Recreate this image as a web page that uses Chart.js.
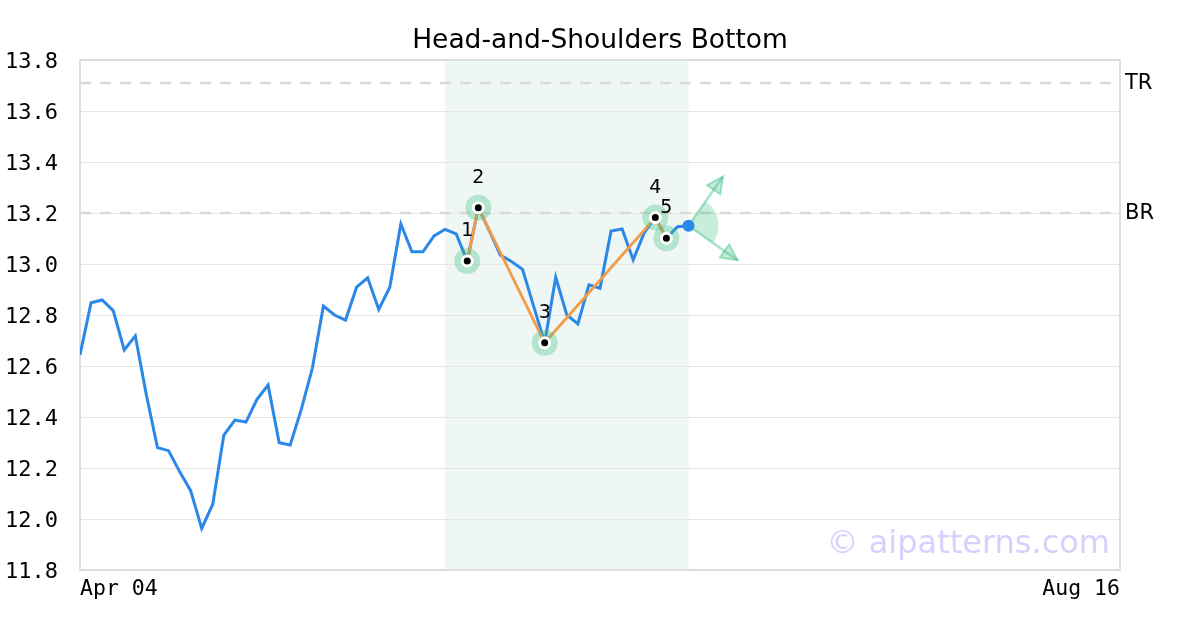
<!DOCTYPE html>
<html>
<head>
<meta charset="utf-8">
<script src="https://cdn.jsdelivr.net/npm/chart.js@4.4.1/dist/chart.umd.min.js"></script>
<style>
  html, body { margin: 0; padding: 0; background: #fff; }
  #wrap { width: 1200px; height: 630px; }
</style>
</head>
<body>
<div id="wrap"><canvas id="chart" width="1200" height="630"></canvas></div>
<script>
// price series (one value per trading day, starting Apr 04)
const closes = [
  12.643, 12.848, 12.859, 12.817, 12.663, 12.718, 12.486, 12.28, 12.268, 12.186,
  12.111, 11.963, 12.058, 12.329, 12.388, 12.380, 12.469, 12.525, 12.299, 12.29,
  12.43, 12.591, 12.835, 12.80, 12.78, 12.909, 12.946, 12.822, 12.909, 13.157,
  13.048, 13.048, 13.11, 13.136, 13.118, 13.012, 13.221, 13.13, 13.035, 13.01,
  12.979, 12.835, 12.691, 12.948, 12.80, 12.765, 12.918, 12.905, 13.129, 13.137,
  13.016, 13.123, 13.182, 13.101, 13.146, 13.15
];
const totalSlots = 95;            // Apr 04 .. Aug 16
const xTickIdx = [0, 94];
const xTickLabels = ['Apr 04', 'Aug 16'];

// pattern pivots
const pivotIdx = [35, 36, 42, 52, 53];
const pivotVals = [13.012, 13.221, 12.691, 13.182, 13.101];
const pivotLabels = ['1', '2', '3', '4', '5'];

// shaded pattern window
const bandFrom = 33;
const bandTo = 55;

// reference lines
const refNames = ['TR', 'BR'];
const refVals = [13.71, 13.2];

const yMin = 11.8, yMax = 13.8, yStep = 0.2;

const closePts = closes.map((v, i) => ({ x: i, y: v }));
const pivotPts = pivotIdx.map((i, k) => ({ x: i, y: pivotVals[k] }));
const lastI = closes.length - 1;

const monoFont = "'DejaVu Sans Mono', monospace";
const sansFont = "'DejaVu Sans', sans-serif";

const decor = {
  id: 'decor',
  beforeDraw(chart) {
    const { ctx, chartArea: a, scales: { x } } = chart;
    ctx.save();
    // pattern window
    const x0 = x.getPixelForValue(bandFrom);
    const x1 = x.getPixelForValue(bandTo);
    ctx.fillStyle = '#eef7f3';
    ctx.fillRect(x0, a.top, x1 - x0, a.bottom - a.top);
    ctx.restore();
  },
  beforeDatasetsDraw(chart) {
    const { ctx, chartArea: a, scales: { x, y } } = chart;
    ctx.save();
    // frame
    ctx.strokeStyle = '#dddddd';
    ctx.lineWidth = 2;
    ctx.strokeRect(a.left, a.top, a.right - a.left, a.bottom - a.top);

    // dashed reference lines + names
    ctx.setLineDash([11, 9]);
    ctx.font = '21px ' + sansFont;
    ctx.textBaseline = 'middle';
    ctx.textAlign = 'left';
    refVals.forEach((v, k) => {
      const py = y.getPixelForValue(v);
      ctx.strokeStyle = '#dadada';
      ctx.lineWidth = 2.5;
      ctx.beginPath();
      ctx.moveTo(a.left, py);
      ctx.lineTo(a.right, py);
      ctx.stroke();
      ctx.fillStyle = '#000';
      ctx.fillText(refNames[k], a.right + 5, py + 1);
    });
    ctx.setLineDash([]);

    // breakout wedge + arrows at last close
    const cx = x.getPixelForValue(lastI);
    const cy = y.getPixelForValue(closes[lastI]);
    const up = -55 * Math.PI / 180;
    const dn = 35 * Math.PI / 180;
    ctx.fillStyle = 'rgba(60,190,130,0.28)';
    ctx.beginPath();
    ctx.moveTo(cx, cy);
    ctx.arc(cx, cy, 30, up, dn);
    ctx.closePath();
    ctx.fill();
    [up, dn].forEach(ang => {
      const len = 60;
      const tx = cx + Math.cos(ang) * len;
      const ty = cy + Math.sin(ang) * len;
      ctx.strokeStyle = 'rgba(60,190,130,0.45)';
      ctx.lineWidth = 2.5;
      ctx.beginPath();
      ctx.moveTo(cx, cy);
      ctx.lineTo(tx, ty);
      ctx.stroke();
      const hl = 16, hw = 8;
      const bx = tx - Math.cos(ang) * hl;
      const by = ty - Math.sin(ang) * hl;
      const px = -Math.sin(ang), py = Math.cos(ang);
      ctx.beginPath();
      ctx.moveTo(tx, ty);
      ctx.lineTo(bx + px * hw, by + py * hw);
      ctx.lineTo(bx - px * hw, by - py * hw);
      ctx.closePath();
      ctx.fillStyle = 'rgba(60,190,130,0.3)';
      ctx.fill();
      ctx.lineWidth = 2;
      ctx.stroke();
    });
    ctx.restore();
  },
  afterDraw(chart) {
    const { ctx, scales: { x, y } } = chart;
    ctx.save();
    // title
    ctx.fillStyle = '#000';
    ctx.font = '26.5px ' + sansFont;
    ctx.textAlign = 'center';
    ctx.textBaseline = 'middle';
    ctx.fillText('Head-and-Shoulders Bottom', 600, 41);
    // pivot numbers
    ctx.font = '19px ' + sansFont;
    pivotIdx.forEach((i, k) => {
      ctx.fillText(pivotLabels[k], x.getPixelForValue(i), y.getPixelForValue(pivotVals[k]) - 30);
    });
    // watermark
    ctx.font = '32px ' + sansFont;
    ctx.textAlign = 'right';
    ctx.textBaseline = 'alphabetic';
    ctx.fillStyle = 'rgba(120,100,255,0.3)';
    ctx.fillText('\u00a9 aipatterns.com', 1110, 553);
    ctx.restore();
  }
};

new Chart(document.getElementById('chart'), {
  type: 'line',
  data: {
    datasets: [
      {
        // pivot dots
        type: 'scatter',
        data: pivotPts,
        pointRadius: 5,
        pointBackgroundColor: '#000',
        pointBorderColor: '#fff',
        pointBorderWidth: 3,
        showLine: false,
        order: 0
      },
      {
        // halos
        type: 'scatter',
        data: pivotPts,
        pointRadius: 13,
        pointBackgroundColor: 'rgba(60,190,130,0.33)',
        pointBorderWidth: 0,
        showLine: false,
        order: 1
      },
      {
        // pattern outline
        data: pivotPts,
        borderColor: '#f59a45',
        borderWidth: 2.8,
        pointRadius: 0,
        tension: 0,
        order: 2
      },
      {
        data: closePts,
        borderColor: '#2b87e8',
        backgroundColor: '#2b87e8',
        borderWidth: 3,
        tension: 0,
        pointRadius: c => (c.dataIndex === lastI ? 6 : 0),
        pointBackgroundColor: '#2b87e8',
        pointBorderWidth: 0,
        order: 3
      }
    ]
  },
  options: {
    responsive: false,
    animation: false,
    layout: { padding: { top: 60, right: 80, left: 0, bottom: 0 } },
    plugins: {
      legend: { display: false },
      tooltip: { enabled: false },
      title: { display: false }
    },
    scales: {
      x: {
        type: 'linear',
        min: 0,
        max: totalSlots - 1,
        afterFit: s => { s.height = 60; },
        afterBuildTicks: s => { s.ticks = xTickIdx.map(v => ({ value: v })); },
        grid: { display: false, drawTicks: false },
        border: { display: false },
        ticks: {
          align: 'inner',
          maxRotation: 0,
          autoSkip: false,
          padding: 7,
          color: '#000',
          font: { family: monoFont, size: 21.5 },
          callback: v => xTickLabels[xTickIdx.indexOf(v)]
        }
      },
      y: {
        min: yMin,
        max: yMax,
        afterFit: s => { s.width = 80; },
        grid: { color: '#e6e6e6', lineWidth: 1, drawTicks: false },
        border: { display: false },
        ticks: {
          stepSize: yStep,
          padding: 22,
          labelOffset: 2,
          color: '#000',
          font: { family: monoFont, size: 22 },
          callback: v => Number(v).toFixed(1)
        }
      }
    }
  },
  plugins: [decor]
});
</script>
</body>
</html>
